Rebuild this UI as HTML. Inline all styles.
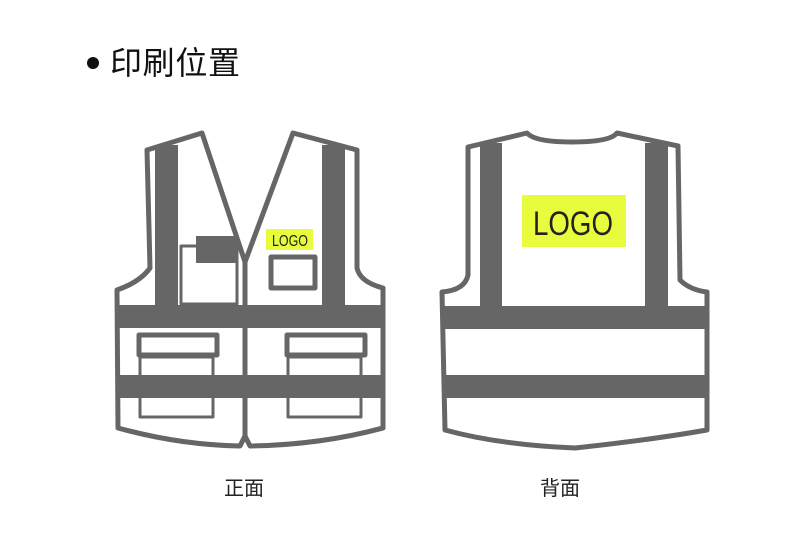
<!DOCTYPE html>
<html><head><meta charset="utf-8"><style>
html,body{margin:0;padding:0;background:#fff;}
body{width:800px;height:530px;overflow:hidden;position:relative;font-family:"Liberation Sans","Noto Sans CJK SC",sans-serif;}
</style></head><body>
<svg width="800" height="530" viewBox="0 0 800 530" xmlns="http://www.w3.org/2000/svg">
<circle cx="93" cy="63" r="6" fill="#111"/>
<text x="110" y="74" font-family="Liberation Sans, Noto Sans CJK SC, sans-serif" font-size="32" textLength="130" fill="#111">印刷位置</text>

<g fill="none" stroke="#666" stroke-width="5" stroke-linejoin="round">
<path d="M202,133 L147,150 L150,268 Q140,282 117,290 L118,428 Q180,445 240,446 L245,436 L250,446 Q320,445 383,428 L383,288 Q360,282 357,268 L357,150 L293,133 L245,262 Z"/>
<line x1="245" y1="262" x2="245" y2="436"/>
<rect x="181" y="246" width="56" height="58" stroke-width="3"/>
<rect x="271" y="257" width="44" height="31" stroke-width="5"/>
<rect x="140" y="357" width="73" height="60" stroke-width="3"/>
<rect x="288" y="357" width="73" height="60" stroke-width="3"/>
<rect x="139" y="335" width="78" height="20" stroke-width="5"/>
<rect x="287" y="335" width="78" height="20" stroke-width="5"/>
<path d="M468,147 L527,133 Q535,142 572,142 Q610,142 617,133 L678,146 L680,280 Q690,290 707,292 L707,430 Q650,440 575,448 Q500,445 445,430 L442,292 Q465,290 468,275 Z"/>
</g>
<g fill="#666">
<rect x="155" y="145" width="23" height="162"/>
<rect x="322" y="145" width="23" height="162"/>
<rect x="118" y="305" width="265" height="23"/>
<rect x="118" y="375" width="265" height="23"/>
<rect x="196" y="236" width="41" height="27"/>
<rect x="480" y="143" width="22" height="164"/>
<rect x="645" y="143" width="23" height="164"/>
<rect x="443" y="306" width="264" height="23"/>
<rect x="443" y="375" width="264" height="23"/>
</g>
<rect x="266" y="229" width="47" height="21" fill="#e8fb3c"/>
<text x="272" y="246" font-size="16" textLength="36" lengthAdjust="spacingAndGlyphs" fill="#222">LOGO</text>
<rect x="522" y="195" width="104" height="52" fill="#e8fb3c"/>
<text x="533" y="235" font-size="34" textLength="80" lengthAdjust="spacingAndGlyphs" fill="#222">LOGO</text>
<text x="244" y="495" text-anchor="middle" font-size="20" fill="#222" font-family="Liberation Sans, Noto Sans CJK SC, sans-serif">正面</text>
<text x="560" y="495" text-anchor="middle" font-size="20" fill="#222" font-family="Liberation Sans, Noto Sans CJK SC, sans-serif">背面</text>
</svg>
</body></html>
